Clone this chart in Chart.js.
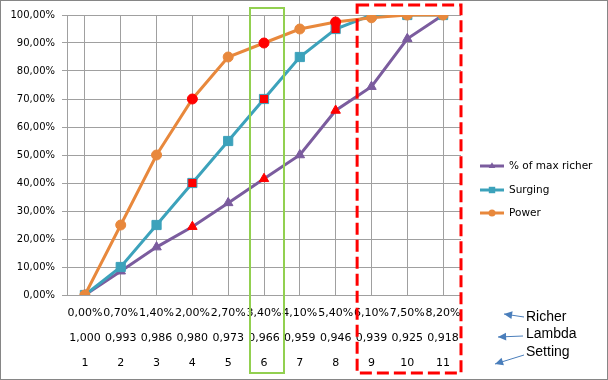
<!DOCTYPE html>
<html>
<head>
<meta charset="utf-8">
<script src="https://cdn.jsdelivr.net/npm/chart.js@4"></script>
<style>
  html, body { margin: 0; padding: 0; background: #fff; }
  #wrap { width: 608px; height: 380px; position: relative; }
</style>
</head>
<body>
<div id="wrap"><canvas id="chart"></canvas></div>
<script>
// ==========================================
// DATA
// ==========================================
const settings   = ['1', '2', '3', '4', '5', '6', '7', '8', '9', '10', '11'];
const richerPct  = ['0,00%', '0,70%', '1,40%', '2,00%', '2,70%', '3,40%', '4,10%', '5,40%', '6,10%', '7,50%', '8,20%'];
const lambdaVals = ['1,000', '0,993', '0,986', '0,980', '0,973', '0,966', '0,959', '0,946', '0,939', '0,925', '0,918'];

// series values (percent)
const maxRicher = [0, 8.5, 17.1, 24.4, 32.9, 41.5, 50, 65.9, 74.4, 91.5, 100];
const surging   = [0, 10, 25, 40, 55, 70, 85, 95, 100, 100, 100];
const power     = [0, 25, 50, 70, 85, 90, 95, 97.5, 99, 100, 100];

// points drawn in red (setting 4, 6, 8)
const redPoints = [3, 5, 7];

// ==========================================
// STYLE
// ==========================================
const colPurple = '#7B5C9E';
const colTeal   = '#3CA2BB';
const colOrange = '#E8883C';
const colRed    = '#FF0000';
const gridCol   = '#A0A0A0';
const axisFont  = { family: 'DejaVu Sans', size: 10 };

const fillFor = c => ctx => redPoints.includes(ctx.dataIndex) ? colRed : c;

function series(label, data, color, style, radius, order) {
    return {
        label, data, order,
        borderColor: color,
        borderWidth: 3,
        pointStyle: style,
        pointRadius: radius,
        pointHoverRadius: radius,
        pointBackgroundColor: fillFor(color),
        pointBorderColor: style === 'rect' ? color : fillFor(color),
        pointBorderWidth: 1,
        tension: 0
    };
}

const datasets = [
    series('% of max richer', maxRicher, colPurple, 'triangle', 5.5, 2),
    series('Surging', surging, colTeal, 'rect', 6.5, 1),
    series('Power', power, colOrange, 'circle', 5, 0)
];

// ==========================================
// DECORATIONS: legend, boxes, notes, border
// ==========================================
const extras = {
    id: 'extras',
    afterDraw(chart) {
        const ctx = chart.ctx;
        const xs = chart.scales.x;
        const area = chart.chartArea;
        const step = xs.getPixelForValue(1) - xs.getPixelForValue(0);
        ctx.save();

        // green box round setting 6
        const c6 = xs.getPixelForValue(5);
        ctx.strokeStyle = '#92D050';
        ctx.lineWidth = 2;
        ctx.strokeRect(c6 - 14, area.top - 7, 34, chart.height - area.top);

        // red dashed box round settings 9-11
        const c9 = xs.getPixelForValue(8);
        ctx.strokeStyle = colRed;
        ctx.lineWidth = 3;
        ctx.setLineDash([12, 5]);
        ctx.strokeRect(c9 - step * 0.4, area.top - 10, area.right - (c9 - step * 0.4), chart.height - area.top + 3);
        ctx.setLineDash([]);

        // legend
        const lx = area.right + 19;
        const ly = [166, 190, 213];
        chart.data.datasets.forEach((ds, i) => {
            ctx.strokeStyle = ds.borderColor;
            ctx.lineWidth = 3;
            ctx.beginPath();
            ctx.moveTo(lx, ly[i]);
            ctx.lineTo(lx + 24, ly[i]);
            ctx.stroke();
            ctx.fillStyle = ds.borderColor;
            Chart.helpers.drawPoint(ctx, {
                pointStyle: ds.pointStyle, radius: ds.pointRadius * 0.7, borderWidth: 0
            }, lx + 12, ly[i]);
            ctx.fillStyle = '#000';
            ctx.font = '10.5px "DejaVu Sans"';
            ctx.textAlign = 'left';
            ctx.textBaseline = 'middle';
            ctx.fillText(ds.label, lx + 29, ly[i]);
        });

        // notes with arrows
        const notes = [
            { text: 'Richer', ty: 317, from: [524, 317], to: [504, 314] },
            { text: 'Lambda', ty: 334, from: [523, 336], to: [498, 337] },
            { text: 'Setting', ty: 352, from: [524, 355], to: [495, 364] }
        ];
        ctx.font = '14px "Liberation Sans"';
        notes.forEach(n => {
            ctx.fillStyle = '#000';
            ctx.fillText(n.text, 526, n.ty);
            const [x1, y1] = n.from, [x2, y2] = n.to;
            const a = Math.atan2(y2 - y1, x2 - x1);
            ctx.strokeStyle = '#4A7EBB';
            ctx.fillStyle = '#4A7EBB';
            ctx.lineWidth = 1;
            ctx.beginPath();
            ctx.moveTo(x1, y1);
            ctx.lineTo(x2, y2);
            ctx.stroke();
            ctx.beginPath();
            ctx.moveTo(x2, y2);
            ctx.lineTo(x2 - 9 * Math.cos(a - 0.45), y2 - 9 * Math.sin(a - 0.45));
            ctx.lineTo(x2 - 9 * Math.cos(a + 0.45), y2 - 9 * Math.sin(a + 0.45));
            ctx.closePath();
            ctx.fill();
        });

        // outer border
        ctx.strokeStyle = '#868686';
        ctx.lineWidth = 1;
        ctx.strokeRect(0.5, 0.5, chart.width - 1, chart.height - 1);
        ctx.restore();
    }
};

new Chart(document.getElementById('chart'), {
    type: 'line',
    data: {
        labels: settings.map((s, i) => [richerPct[i], lambdaVals[i], s]),
        datasets
    },
    options: {
        responsive: true,
        maintainAspectRatio: false,
        animation: false,
        layout: { padding: { top: 15, right: 147, bottom: 0, left: 0 } },
        plugins: {
            legend: { display: false },
            tooltip: { enabled: false }
        },
        scales: {
            x: {
                offset: true,
                grid: { color: gridCol, drawTicks: false },
                border: { color: gridCol },
                ticks: {
                    font: { family: 'DejaVu Sans', size: 11, lineHeight: 2.27 },
                    color: '#000',
                    padding: 6,
                    autoSkip: false,
                    maxRotation: 0
                },
                afterFit(scale) { scale.height = 85; }
            },
            y: {
                min: 0,
                max: 100,
                grid: { color: gridCol, tickLength: 5 },
                border: { color: gridCol },
                ticks: {
                    stepSize: 10,
                    font: axisFont,
                    color: '#000',
                    padding: 7,
                    callback: v => v.toFixed(2).replace('.', ',') + '%'
                },
                afterFit(scale) { scale.width = 67; }
            }
        }
    },
    plugins: [extras]
});
</script>
</body>
</html>
